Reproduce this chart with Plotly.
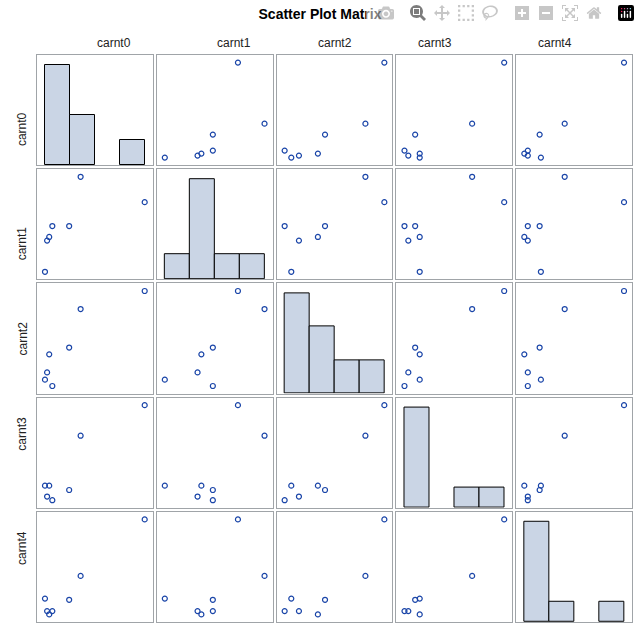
import plotly.graph_objects as go
from plotly.subplots import make_subplots

names = ["carnt0", "carnt1", "carnt2", "carnt3", "carnt4"]
carnt0 = [1.0, 1.17, 1.34, 1.59, 2.94, 3.86, 9.0]
carnt1 = [1.0, 2.97, 3.2, 3.89, 3.89, 7.0, 5.4]
carnt2 = [1.2, 1.66, 2.8, 0.8, 3.23, 5.66, 6.8]
carnt3 = [2.07, 1.27, 2.07, 1.0, 1.75, 5.75, 8.0]
carnt4 = [2.33, 1.28, 1.0, 1.28, 2.23, 4.24, 9.0]
data = [carnt0, carnt1, carnt2, carnt3, carnt4]
# histogram bins per variable: (start, end, size)
bins = [(0, 10, 2.5), (0, 8, 2), (0, 8, 2), (0.5, 8.5, 2), (0.5, 9.5, 2.25)]

n = len(names)
fig = make_subplots(rows=n, cols=n, horizontal_spacing=0.007, vertical_spacing=0.007)

for i in range(n):
    for j in range(n):
        r, c = i + 1, j + 1
        if i == j:
            s, e, w = bins[i]
            counts = [sum(1 for v in data[i] if s + k * w <= v < s + (k + 1) * w) for k in range(4)]
            fig.add_trace(go.Histogram(x=data[i], xbins=dict(start=s, end=e, size=w),
                                       marker=dict(color="#CAD5E5", line=dict(color="black", width=1)),
                                       showlegend=False), row=r, col=c)
            fig.update_xaxes(range=[s - 0.08 * (e - s), e + 0.08 * (e - s)], row=r, col=c)
            fig.update_yaxes(range=[0, max(counts) * 1.1], row=r, col=c)
        else:
            xs, ys = data[j], data[i]
            fig.add_trace(go.Scatter(x=xs, y=ys, mode="markers",
                                     marker=dict(symbol="circle-open", size=5, color="#1A45A8",
                                                 line=dict(width=1.2)),
                                     showlegend=False), row=r, col=c)
            px_ = (max(xs) - min(xs)) * 0.08
            py_ = (max(ys) - min(ys)) * 0.08
            fig.update_xaxes(range=[min(xs) - px_, max(xs) + px_], row=r, col=c)
            fig.update_yaxes(range=[min(ys) - py_, max(ys) + py_], row=r, col=c)

fig.update_xaxes(showticklabels=False, showgrid=False, zeroline=False, ticks="",
                 showline=True, linecolor="#A0A4A8", linewidth=1, mirror=True)
fig.update_yaxes(showticklabels=False, showgrid=False, zeroline=False, ticks="",
                 showline=True, linecolor="#A0A4A8", linewidth=1, mirror=True)

for k in range(n):
    dom = fig.layout[f"xaxis{k + 1 if k else ''}"].domain
    fig.add_annotation(x=(dom[0] + dom[1]) / 2, y=1.0, xref="paper", yref="paper",
                       yanchor="bottom", yshift=3, text=names[k], showarrow=False,
                       font=dict(size=12, color="#222"))
    ydom = fig.layout[f"yaxis{k * n + 1 if k else ''}"].domain
    fig.add_annotation(x=0, y=(ydom[0] + ydom[1]) / 2, xref="paper", yref="paper",
                       xanchor="right", xshift=-6, text=names[k], textangle=-90,
                       showarrow=False, font=dict(size=12, color="#222"))

fig.update_layout(
    width=640, height=640,
    margin=dict(l=37, r=8, t=55, b=18),
    paper_bgcolor="white", plot_bgcolor="white",
    font=dict(family="Arial, Liberation Sans, sans-serif"),
    title=dict(text="<b>Scatter Plot Matrix</b>", x=0.5, xanchor="center", y=0.985,
               yanchor="top", font=dict(size=14, color="black")),
    bargap=0,
)
fig.write_html("out.html", post_script="document.body.style.margin='0';")
